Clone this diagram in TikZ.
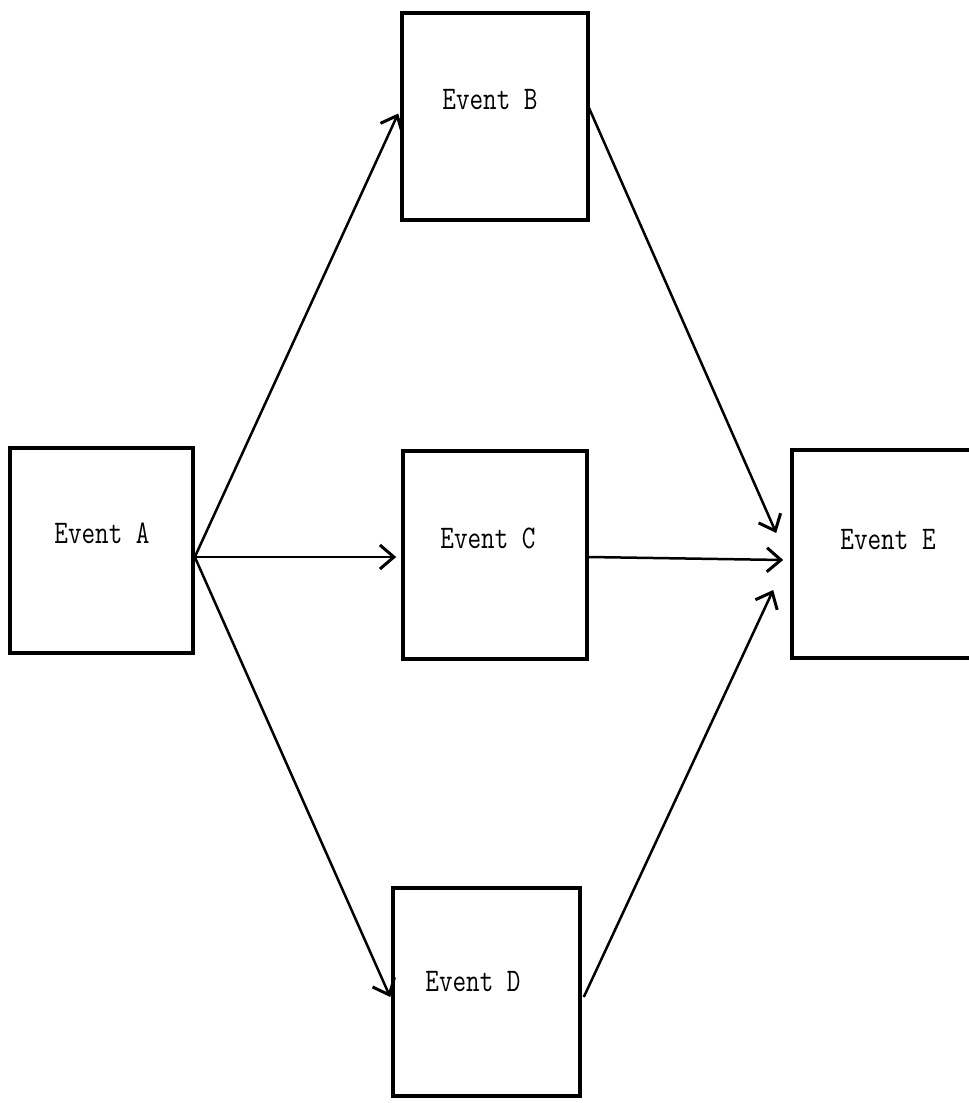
\documentclass[tikz,border=0pt]{standalone}
\usetikzlibrary{arrows.meta}
\begin{document}
\begin{tikzpicture}[x=1pt,y=-1pt,
  evbox/.style={draw, line width=3.6pt, inner sep=0pt, minimum width=#1},
  evbox/.default=185pt,
  evtext/.style={font=\fontsize{33}{33}\selectfont\ttfamily},
  link/.style={line width=2.5pt, -{Straight Barb[length=14pt,width=24pt,line width=3pt]}}]
\useasboundingbox (0,0) rectangle (969,1103);
% boxes
\node[evbox=183pt, minimum height=205pt] (A) at (101.5,550.5) {};
\node[evbox=186pt, minimum height=207pt] (B) at (495,116.5) {};
\node[evbox=184pt, minimum height=208pt] (C) at (495,555) {};
\node[evbox=187pt, minimum height=208pt] (D) at (486.5,992) {};
\node[evbox=186pt, minimum height=208pt] (E) at (885,554) {};
% labels
\node[evtext] (tA) at (102,533) {\scalebox{0.8}[1]{Event A}};
\node[evtext] (tB) at (490,100) {\scalebox{0.8}[1]{Event B}};
\node[evtext] (tC) at (488,538) {\scalebox{0.8}[1]{Event C}};
\node[evtext] (tD) at (473,982) {\scalebox{0.8}[1]{Event D}};
\node[evtext] (tE) at (888,540) {\scalebox{0.8}[1]{Event E}};
% connectors
\draw[link] ([yshift=-6.5pt]A.east) -- ([xshift=-2pt,yshift=3pt]B.west);
\draw[link] ([yshift=-6.5pt]A.east) -- ([xshift=-5pt,yshift=-2pt]C.west);
\draw[link] ([yshift=-6.5pt]A.east) -- ([xshift=-1pt,yshift=-5pt]D.west);
\draw[link] ([xshift=-1pt,yshift=9pt]B.east) -- ([xshift=-14pt,yshift=21pt]E.west);
\draw[link] ([yshift=-2pt]C.east) -- ([xshift=-7pt,yshift=-6pt]E.west);
\draw[link] ([xshift=2pt,yshift=-5pt]D.east) -- ([xshift=-17pt,yshift=-36pt]E.west);
\end{tikzpicture}
\end{document}
